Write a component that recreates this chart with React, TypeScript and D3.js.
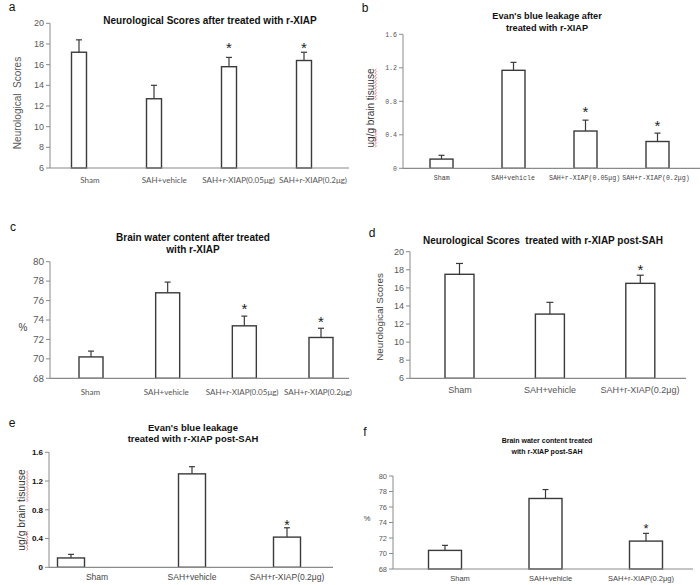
import React, { useLayoutEffect, useRef, useState } from "react";
import * as d3 from "d3";

const cats4 = ["Sham", "SAH+vehicle", "SAH+r-XIAP(0.05μg)", "SAH+r-XIAP(0.2μg)"];
const cats3 = ["Sham", "SAH+vehicle", "SAH+r-XIAP(0.2μg)"];

const neuroA = [17.2, 12.7, 15.8, 16.4];
const neuroAErr = [1.2, 1.3, 0.9, 0.8];
const starsA = [false, false, true, true];

const evansB = [0.11, 1.17, 0.445, 0.32];
const evansBErr = [0.045, 0.095, 0.13, 0.1];
const starsB = [false, false, true, true];

const waterC = [70.2, 76.8, 73.4, 72.2];
const waterCErr = [0.6, 1.1, 1.0, 0.95];
const starsC = [false, false, true, true];

const neuroD = [17.5, 13.1, 16.5];
const neuroDErr = [1.2, 1.3, 0.9];
const starsD = [false, false, true];

const evansE = [0.13, 1.3, 0.42];
const evansEErr = [0.05, 0.1, 0.13];
const starsE = [false, false, true];

const waterF = [70.4, 77.1, 71.6];
const waterFErr = [0.65, 1.15, 1.0];
const starsF = [false, false, true];

const neuroTicks = [6, 8, 10, 12, 14, 16, 18, 20];
const evansTicks = [0, 0.4, 0.8, 1.2, 1.6];
const waterTicks = [68, 70, 72, 74, 76, 78, 80];

const evansYLabel = "ug/g brain tisuuse";
const misspelled = ["ug/g", "tisuuse"];

const ARIAL = "'Liberation Sans', Arial, sans-serif";
const MONO = "'Liberation Mono', monospace";
const LATO = "Lato, 'Liberation Sans', sans-serif";

type PanelCfg = {
  letter: string;
  letterPos: [number, number];
  title: string[];
  titleX: number;
  titleY: number;
  titleSize: number;
  titleGap: number;
  cats: string[];
  values: number[];
  errs: number[];
  stars: boolean[];
  domain: [number, number];
  ticks: number[];
  tickFmt: (v: number) => string;
  axisX: number;
  axisRight: number;
  yRange: [number, number];
  barRange: [number, number];
  barShift?: number[];
  labelRange: [number, number];
  barW: number;
  capW: number;
  labelY: number;
  labelFont: string;
  labelSize: number;
  labelColor: string;
  tickFont: string;
  tickSize: number;
  tickWeight: string | number;
  tickColor: string;
  yLabel: string;
  squiggle?: boolean;
  yLabelX: number;
  yLabelY: number;
  yLabelSize: number;
  yLabelRotate: boolean;
  yLabelColor: string;
  starOffset: number[];
  starSize: number;
};

function wavyPath(x0: number, x1: number, yy: number) {
  const pts: string[] = [];
  let up = true;
  for (let x = x0; x <= x1 + 0.01; x += 1.5) {
    pts.push(`${x.toFixed(2)},${(yy + (up ? -0.7 : 0.7)).toFixed(2)}`);
    up = !up;
  }
  return "M" + pts.join("L");
}

function YLabel({ c }: { c: PanelCfg }) {
  const ref = useRef<SVGTextElement>(null);
  const [segs, setSegs] = useState<[number, number][]>([]);
  useLayoutEffect(() => {
    if (!c.squiggle || !ref.current) return;
    const el = ref.current;
    const total = el.getComputedTextLength();
    const out: [number, number][] = [];
    misspelled.forEach((w) => {
      const idx = c.yLabel.indexOf(w);
      if (idx < 0) return;
      const pre = idx > 0 ? el.getSubStringLength(0, idx) : 0;
      const len = el.getSubStringLength(idx, w.length);
      out.push([-total / 2 + pre, -total / 2 + pre + len]);
    });
    setSegs(out);
  }, [c]);
  const transform = c.yLabelRotate
    ? `translate(${c.yLabelX},${c.yLabelY}) rotate(-90)`
    : `translate(${c.yLabelX},${c.yLabelY})`;
  return (
    <g transform={transform}>
      <text
        ref={ref}
        y={0}
        dy="0.35em"
        textAnchor="middle"
        fontFamily={ARIAL}
        fontSize={c.yLabelSize}
        fill={c.yLabelColor}
        style={{ whiteSpace: "pre" }}
      >
        {c.yLabel}
      </text>
      {segs.map((s, i) => (
        <path key={i} d={wavyPath(s[0], s[1], c.yLabelSize * 0.35 + 2.2)} fill="none" stroke="#ee7777" strokeWidth={0.9} />
      ))}
    </g>
  );
}

function Panel({ c }: { c: PanelCfg }) {
  const y = d3.scaleLinear().domain(c.domain).range(c.yRange);
  const xb = d3.scalePoint<string>().domain(c.cats).range(c.barRange);
  const xl = d3.scalePoint<string>().domain(c.cats).range(c.labelRange);
  const base = y(c.domain[0]);
  return (
    <g>
      <text x={c.letterPos[0]} y={c.letterPos[1]} fontFamily={ARIAL} fontSize={12} fill="#111" textAnchor="middle">
        {c.letter}
      </text>
      {c.title.map((t, i) => (
        <text
          key={i}
          x={c.titleX}
          y={c.titleY + i * c.titleGap}
          fontFamily={ARIAL}
          fontWeight="bold"
          fontSize={c.titleSize}
          textAnchor="middle"
          fill="#111"
          style={{ whiteSpace: "pre" }}
        >
          {t}
        </text>
      ))}
      <line x1={c.axisX} x2={c.axisX} y1={y(c.domain[1])} y2={base} stroke="#8a8a8a" strokeWidth={1} />
      {c.ticks.map((t) => (
        <g key={t}>
          <line x1={c.axisX - 4} x2={c.axisX} y1={y(t)} y2={y(t)} stroke="#8a8a8a" strokeWidth={1} />
          <text
            x={c.axisX - 6}
            y={y(t)}
            dy="0.35em"
            textAnchor="end"
            fontFamily={c.tickFont}
            fontSize={c.tickSize}
            fontWeight={c.tickWeight}
            fill={c.tickColor}
          >
            {c.tickFmt(t)}
          </text>
        </g>
      ))}
      {c.cats.map((cat, i) => {
        const cx = (xb(cat) as number) + (c.barShift ? c.barShift[i] : 0);
        const top = y(c.values[i]);
        const et = y(c.values[i] + c.errs[i]);
        return (
          <g key={cat}>
            <rect x={cx - c.barW / 2} y={top} width={c.barW} height={base - top} fill="#fff" stroke="#3a3a3a" strokeWidth={1.4} />
            <line x1={cx} x2={cx} y1={top} y2={et} stroke="#3a3a3a" strokeWidth={1.2} />
            <line x1={cx - c.capW / 2} x2={cx + c.capW / 2} y1={et} y2={et} stroke="#3a3a3a" strokeWidth={1.2} />
            {c.stars[i] && (
              <text
                x={cx}
                y={et - c.starOffset[i] + c.starSize * 0.58}
                textAnchor="middle"
                fontFamily={ARIAL}
                fontSize={c.starSize}
                fill="#222"
              >
                *
              </text>
            )}
          </g>
        );
      })}
      <line x1={c.axisX} x2={c.axisRight} y1={base} y2={base} stroke="#8a8a8a" strokeWidth={1.2} />
      {c.cats.map((cat) => (
        <text
          key={cat}
          x={xl(cat) as number}
          y={c.labelY}
          textAnchor="middle"
          fontFamily={c.labelFont}
          fontSize={c.labelSize}
          fill={c.labelColor}
        >
          {cat}
        </text>
      ))}
      <YLabel c={c} />
    </g>
  );
}

const fmt0 = (v: number) => String(v);
const fmtB = (v: number) => (v === 0 ? "0" : v.toFixed(1));

const panels: PanelCfg[] = [
  {
    letter: "a",
    letterPos: [12, 11],
    title: ["Neurological Scores after treated with r-XIAP"],
    titleX: 210,
    titleY: 23.5,
    titleSize: 10,
    titleGap: 12,
    cats: cats4,
    values: neuroA,
    errs: neuroAErr,
    stars: starsA,
    domain: [6, 20],
    ticks: neuroTicks,
    tickFmt: fmt0,
    axisX: 50,
    axisRight: 349,
    yRange: [168, 23.3],
    barRange: [79, 304],
    labelRange: [90, 313],
    barW: 15,
    capW: 6,
    labelY: 183,
    labelFont: LATO,
    labelSize: 8,
    labelColor: "#555",
    tickFont: ARIAL,
    tickSize: 9,
    tickWeight: "normal",
    tickColor: "#595959",
    yLabel: "Neurological  Scores",
    yLabelX: 17,
    yLabelY: 103,
    yLabelSize: 10,
    yLabelRotate: true,
    yLabelColor: "#595959",
    starOffset: [0, 0, 13, 8],
    starSize: 15,
  },
  {
    letter: "b",
    letterPos: [365, 12],
    title: ["Evan's blue leakage after", "treated with r-XIAP"],
    titleX: 547,
    titleY: 18.5,
    titleSize: 9.2,
    titleGap: 12,
    cats: cats4,
    values: evansB,
    errs: evansBErr,
    stars: starsB,
    domain: [0, 1.6],
    ticks: evansTicks,
    tickFmt: fmtB,
    axisX: 403,
    axisRight: 700,
    yRange: [168.3, 34.3],
    barRange: [441.5, 657.5],
    labelRange: [441.7, 656],
    barW: 23,
    capW: 6,
    labelY: 180,
    labelFont: MONO,
    labelSize: 6.6,
    labelColor: "#444",
    tickFont: MONO,
    tickSize: 6.6,
    tickWeight: "normal",
    tickColor: "#555",
    yLabel: evansYLabel,
    squiggle: true,
    yLabelX: 370,
    yLabelY: 108,
    yLabelSize: 10,
    yLabelRotate: true,
    yLabelColor: "#333",
    starOffset: [0, 0, 12, 11],
    starSize: 15,
  },
  {
    letter: "c",
    letterPos: [13, 231],
    title: ["Brain water content after treated", "with r-XIAP"],
    titleX: 193,
    titleY: 240.5,
    titleSize: 10,
    titleGap: 12,
    cats: cats4,
    values: waterC,
    errs: waterCErr,
    stars: starsC,
    domain: [68, 80],
    ticks: waterTicks,
    tickFmt: fmt0,
    axisX: 50,
    axisRight: 349,
    yRange: [378.3, 261.7],
    barRange: [91, 321],
    labelRange: [90.5, 318],
    barW: 24,
    capW: 6,
    labelY: 395,
    labelFont: LATO,
    labelSize: 8,
    labelColor: "#555",
    tickFont: LATO,
    tickSize: 9.5,
    tickWeight: "normal",
    tickColor: "#595959",
    yLabel: "%",
    yLabelX: 23,
    yLabelY: 327,
    yLabelSize: 10,
    yLabelRotate: false,
    yLabelColor: "#444",
    starOffset: [0, 0, 11, 10],
    starSize: 15,
  },
  {
    letter: "d",
    letterPos: [372, 237],
    title: ["Neurological Scores  treated with r-XIAP post-SAH"],
    titleX: 543,
    titleY: 243.5,
    titleSize: 10,
    titleGap: 12,
    cats: cats3,
    values: neuroD,
    errs: neuroDErr,
    stars: starsD,
    domain: [6, 20],
    ticks: neuroTicks,
    tickFmt: fmt0,
    axisX: 410,
    axisRight: 686,
    yRange: [378.3, 251.7],
    barRange: [459.5, 640.3],
    labelRange: [460, 640],
    barW: 29,
    capW: 7,
    labelY: 393,
    labelFont: ARIAL,
    labelSize: 9,
    labelColor: "#555",
    tickFont: ARIAL,
    tickSize: 9,
    tickWeight: "normal",
    tickColor: "#595959",
    yLabel: "Neurological Scores",
    yLabelX: 380,
    yLabelY: 317,
    yLabelSize: 9.8,
    yLabelRotate: true,
    yLabelColor: "#444",
    starOffset: [0, 0, 9],
    starSize: 15,
  },
  {
    letter: "e",
    letterPos: [12, 427],
    title: ["Evan's blue leakage", "treated with r-XIAP post-SAH"],
    titleX: 193,
    titleY: 430.5,
    titleSize: 9.5,
    titleGap: 11.6,
    cats: cats3,
    values: evansE,
    errs: evansEErr,
    stars: starsE,
    domain: [0, 1.6],
    ticks: evansTicks,
    tickFmt: fmtB,
    axisX: 49,
    axisRight: 333,
    yRange: [567.3, 452.3],
    barRange: [97, 287],
    barShift: [-26, 0, 0],
    labelRange: [97, 287],
    barW: 27,
    capW: 6,
    labelY: 580,
    labelFont: ARIAL,
    labelSize: 8.5,
    labelColor: "#444",
    tickFont: ARIAL,
    tickSize: 8,
    tickWeight: "bold",
    tickColor: "#111",
    yLabel: evansYLabel,
    squiggle: true,
    yLabelX: 21.5,
    yLabelY: 510,
    yLabelSize: 10.3,
    yLabelRotate: true,
    yLabelColor: "#333",
    starOffset: [0, 0, 6],
    starSize: 14,
  },
  {
    letter: "f",
    letterPos: [365, 436],
    title: ["Brain water content treated", "with r-XIAP post-SAH"],
    titleX: 547,
    titleY: 442.5,
    titleSize: 7,
    titleGap: 11,
    cats: cats3,
    values: waterF,
    errs: waterFErr,
    stars: starsF,
    domain: [68, 80],
    ticks: waterTicks,
    tickFmt: fmt0,
    axisX: 393,
    axisRight: 693,
    yRange: [569, 476],
    barRange: [445, 646],
    barShift: [0, 0, 0],
    labelRange: [460, 641],
    barW: 33,
    capW: 6,
    labelY: 581,
    labelFont: ARIAL,
    labelSize: 7.5,
    labelColor: "#444",
    tickFont: ARIAL,
    tickSize: 7.5,
    tickWeight: "normal",
    tickColor: "#595959",
    yLabel: "%",
    yLabelX: 367,
    yLabelY: 518,
    yLabelSize: 7.5,
    yLabelRotate: false,
    yLabelColor: "#444",
    starOffset: [0, 0, 8],
    starSize: 13,
  },
];

export default function App() {
  return (
    <svg width={700} height={585} style={{ position: "absolute", left: 0, top: 0, background: "#fff" }}>
      <rect width={700} height={585} fill="#fff" />
      {panels.map((p) => (
        <Panel key={p.letter} c={p} />
      ))}
    </svg>
  );
}
